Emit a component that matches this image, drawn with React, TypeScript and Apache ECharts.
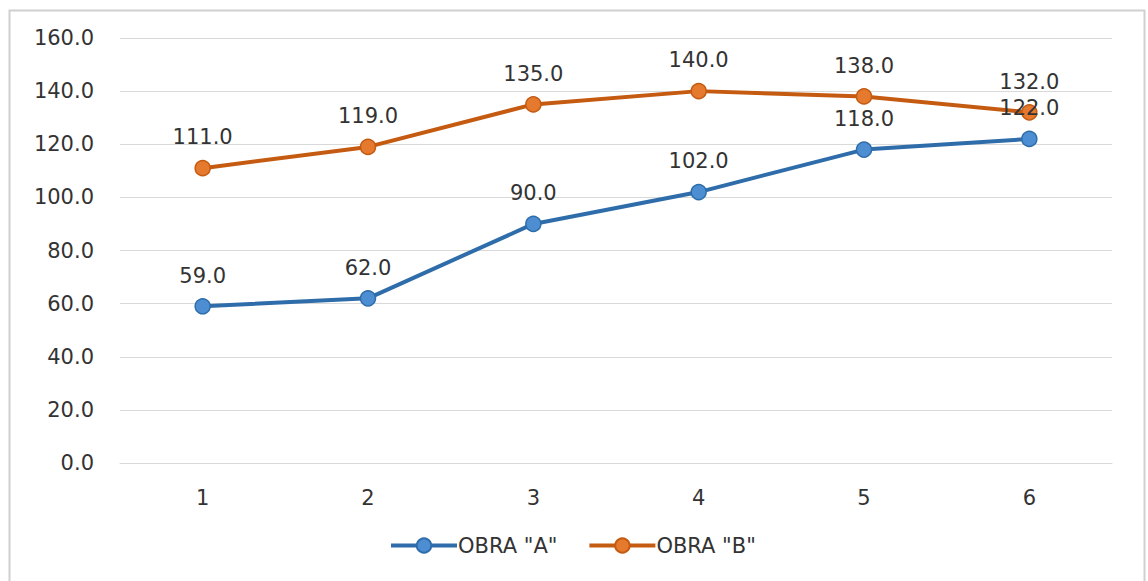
import React, { useEffect, useRef } from "react";
import * as echarts from "echarts";

const categories = ["1", "2", "3", "4", "5", "6"];
const obraA = [59, 62, 90, 102, 118, 122];
const obraB = [111, 119, 135, 140, 138, 132];
const seriesNames = ['OBRA "A"', 'OBRA "B"'];

const FONT = "DejaVu Sans";
const TEXT = "#333333";

export default function App() {
  const ref = useRef<HTMLDivElement>(null);
  useEffect(() => {
    const chart = echarts.init(ref.current!, null, { renderer: "svg" });
    const mk = (name: string, data: number[], line: string, fill: string) => ({
      name,
      type: "line",
      data,
      symbol: "circle",
      symbolSize: 15,
      lineStyle: { color: line, width: 4 },
      itemStyle: { color: fill, borderColor: line, borderWidth: 1.5 },
      label: {
        show: true,
        position: "top",
        distance: 12,
        formatter: (p: any) => Number(p.value).toFixed(1),
        fontFamily: FONT,
        fontSize: 21,
        color: TEXT,
      },
      z: name === seriesNames[0] ? 3 : 2,
    });
    chart.setOption({
      animation: false,
      backgroundColor: "#ffffff",
      textStyle: { fontFamily: FONT },
      graphic: [
        {
          type: "rect",
          shape: { x: 9.5, y: 10.5, width: 1135, height: 600 },
          style: { fill: "none", stroke: "#d0d0d0", lineWidth: 2 },
          silent: true,
        },
      ],
      grid: { left: 120, right: 36, top: 38, bottom: 118 },
      xAxis: {
        type: "category",
        data: categories,
        boundaryGap: true,
        axisLine: { show: true, lineStyle: { color: "#d9d9d9", width: 1 } },
        axisTick: { show: false },
        axisLabel: { fontFamily: FONT, fontSize: 21, color: TEXT, margin: 24 },
      },
      yAxis: {
        type: "value",
        min: 0,
        max: 160,
        interval: 20,
        axisLine: { show: false },
        axisTick: { show: false },
        splitLine: { lineStyle: { color: "#d9d9d9", width: 1 } },
        axisLabel: {
          fontFamily: FONT,
          fontSize: 21,
          color: TEXT,
          margin: 26,
          formatter: (v: number) => v.toFixed(1),
        },
      },
      legend: {
        bottom: 20,
        left: 384,
        itemWidth: 66,
        itemHeight: 18,
        itemGap: 30,
        lineStyle: { width: 4 },
        textStyle: { fontFamily: FONT, fontSize: 21, color: TEXT, padding: [0, 0, 0, -4] },
        data: seriesNames,
      },
      series: [
        mk(seriesNames[0], obraA, "#2E6DAA", "#4D8ED3"),
        mk(seriesNames[1], obraB, "#C55A11", "#E57A2E"),
      ],
    });
    return () => chart.dispose();
  }, []);
  return (
    <div
      ref={ref}
      style={{ position: "absolute", left: 0, top: 0, width: 1148, height: 581 }}
    />
  );
}
